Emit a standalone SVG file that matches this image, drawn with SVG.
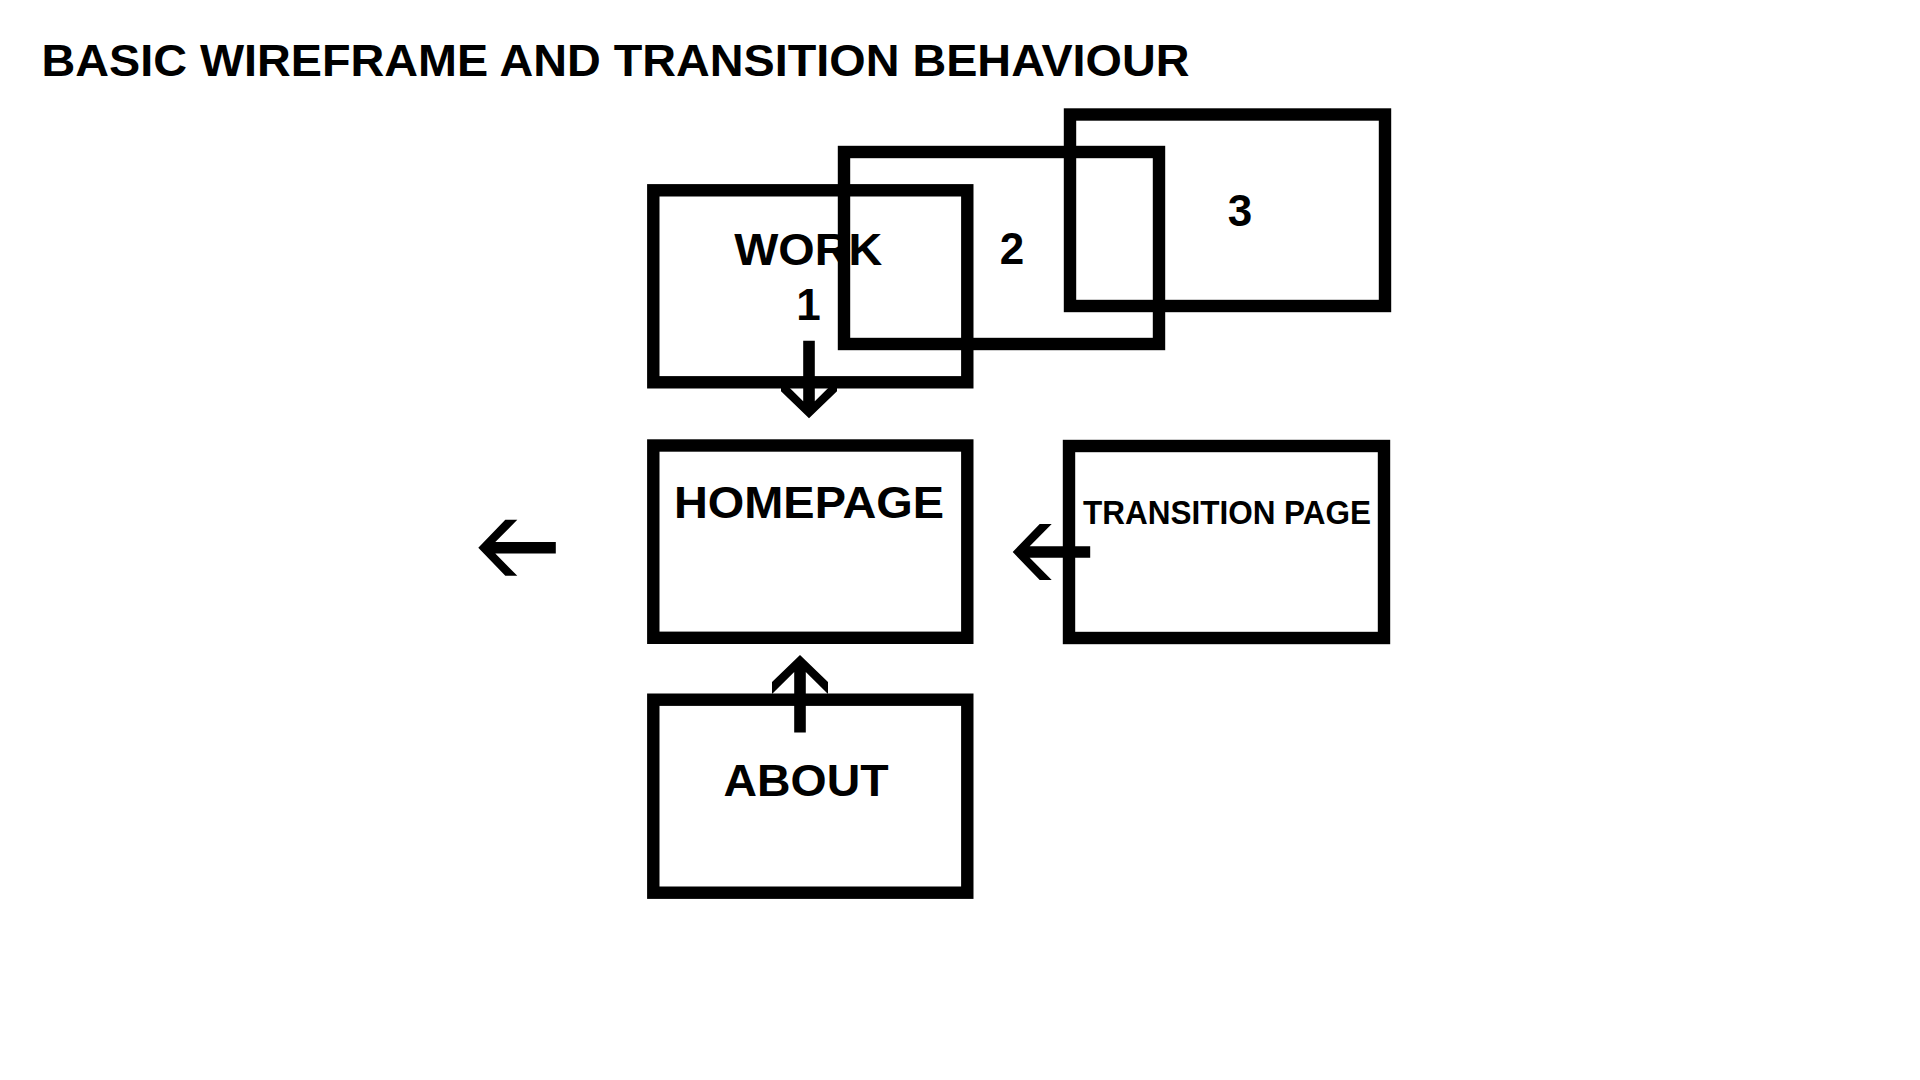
<svg xmlns="http://www.w3.org/2000/svg" xmlns:xlink="http://www.w3.org/1999/xlink" width="1920" height="1080" viewBox="0 0 1920 1080">
  <style>
    .frame { fill: none; stroke: #000; stroke-width: 12.4; }
    .label { font-family: "Liberation Sans", Arial, Helvetica, sans-serif; font-weight: bold; fill: #000; text-anchor: middle; }
    .title { font-family: "Liberation Sans", Arial, Helvetica, sans-serif; font-weight: bold; fill: #000; font-size: 44px; }
    .arrow { fill: #000; }
  </style>
  <defs>
    <!-- left-pointing arrow, tip at the origin, shaft running to +x -->
    <path id="arrow" d="M0,0 L27,-28 L39,-28 L17,-5.8 L77.5,-5.8 L77.5,5.8 L17,5.8 L39,28 L27,28 Z"/>
  </defs>

  <rect width="1920" height="1080" fill="#fff"/>

  <text class="title" x="41.5" y="75.5" textLength="1148" lengthAdjust="spacingAndGlyphs">BASIC WIREFRAME AND TRANSITION BEHAVIOUR</text>

  <g id="work-1">
    <rect class="frame" x="653.3" y="190.3" width="314" height="192"/>
    <text class="label" x="808.2" y="265" font-size="44" textLength="148" lengthAdjust="spacingAndGlyphs">WORK</text>
    <text class="label" x="808.5" y="320" font-size="44">1</text>
  </g>

  <g id="work-2">
    <rect class="frame" x="844" y="152" width="315" height="192"/>
    <text class="label" x="1012" y="264" font-size="44">2</text>
  </g>

  <g id="work-3">
    <rect class="frame" x="1070" y="114.5" width="315" height="191.5"/>
    <text class="label" x="1240" y="226" font-size="44">3</text>
  </g>

  <g id="homepage">
    <rect class="frame" x="653.3" y="445.5" width="314" height="192.3"/>
    <text class="label" x="809" y="518" font-size="44" textLength="270" lengthAdjust="spacingAndGlyphs">HOMEPAGE</text>
  </g>

  <g id="transition-page">
    <rect class="frame" x="1069" y="446" width="315" height="192"/>
    <text class="label" x="1227" y="524" font-size="32.5" textLength="288" lengthAdjust="spacingAndGlyphs">TRANSITION PAGE</text>
  </g>

  <g id="about">
    <rect class="frame" x="653.3" y="699.7" width="314" height="193"/>
    <text class="label" x="806" y="796" font-size="44" textLength="165" lengthAdjust="spacingAndGlyphs">ABOUT</text>
  </g>

  <g id="connectors" class="arrow">
    <use xlink:href="#arrow" transform="translate(478.3,547.8)"/>
    <use xlink:href="#arrow" transform="translate(1012.7,552)"/>
    <use xlink:href="#arrow" transform="translate(809,418.3) rotate(-90)"/>
    <use xlink:href="#arrow" transform="translate(800,655) rotate(90)"/>
  </g>
</svg>
